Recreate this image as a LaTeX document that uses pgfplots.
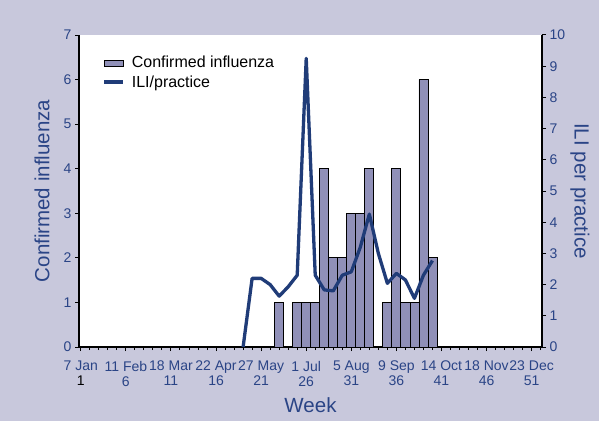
\documentclass[border=0pt]{standalone}
\usepackage{fontspec}
\setmainfont{Liberation Sans}
\usepackage{pgfplots}
\pgfplotsset{compat=1.18}
\definecolor{bg}{HTML}{C8C8DC}
\definecolor{barc}{HTML}{9090B8}
\definecolor{linec}{HTML}{203C78}
\definecolor{txt}{HTML}{2A4486}
\begin{document}
\begin{tikzpicture}
\fill[bg] (0pt,0pt) rectangle (599pt,421pt);
\begin{axis}[
  at={(79pt,74pt)}, anchor=south west, scale only axis,
  width=463pt, height=312pt,
  xmin=0.8, xmax=52.15, ymin=0, ymax=7,
  axis background/.style={fill=white},
  axis x line*=bottom, axis y line*=left,
  x axis line style={-, line width=1.8pt, black},
  y axis line style={-, line width=1.4pt, black},
  tick align=outside,
  major tick length=4pt, minor tick length=3pt,
  tick style={black, line width=1pt},
  xtick={1,6,11,16,21,26,31,36,41,46,51},
  minor xtick={2,...,52},
  xticklabels={{7 Jan\\\textcolor{black}{1}},{11 Feb\\6},{18 Mar\\11},{22 Apr\\16},{27 May\\21},{1 Jul\\26},{5 Aug\\31},{9 Sep\\36},{14 Oct\\41},{18 Nov\\46},{23 Dec\\51}},
  xticklabel style={align=center, font=\fontsize{14}{15}\selectfont, text=txt, inner sep=1pt, yshift=-9pt},
  ytick={0,...,7},
  yticklabel style={font=\fontsize{14}{16}\selectfont, text=txt},
  /pgf/number format/assume math mode=true,
  xlabel={Week},
  xlabel style={at={(axis description cs:0.5,-0.186)}, anchor=center, font=\fontsize{20.5}{24}\selectfont, text=txt},
  ylabel={Confirmed influenza},
  ylabel style={at={(axis description cs:-0.08,0.5)}, anchor=center, font=\fontsize{20.5}{24}\selectfont, text=txt},
]
\addplot[ybar, bar width=1, bar shift=0pt, fill=barc, draw=black, line width=0.8pt] coordinates {
(23,1) (25,1) (26,1) (27,1) (28,4) (29,2) (30,2) (31,3) (32,3) (33,4)
(35,1) (36,4) (37,1) (38,1) (39,6) (40,2)
};
\end{axis}
\begin{axis}[
  at={(79pt,74pt)}, anchor=south west, scale only axis,
  width=463pt, height=312pt,
  xmin=0.8, xmax=52.15, ymin=0, ymax=10,
  axis x line=none, axis y line*=right,
  y axis line style={-, line width=1.4pt, black},
  tick align=outside,
  major tick length=4pt,
  tick style={black, line width=1pt},
  ytick={0,...,10},
  yticklabel style={font=\fontsize{14}{16}\selectfont, text=txt},
  /pgf/number format/assume math mode=true,
  ylabel={ILI per practice},
  ylabel style={at={(axis description cs:1.082,0.5)}, anchor=center, rotate=180, font=\fontsize{20.5}{24}\selectfont, text=txt},
  legend style={draw=none, fill=none, at={(0.044,0.945)}, anchor=north west, font=\fontsize{16}{18}\selectfont, row sep=2pt},
  legend cell align=left,
]
\addlegendimage{legend image code/.code={\draw[fill=barc, draw=black, line width=0.8pt] (0pt,-3pt) rectangle (19pt,3pt);}}
\addlegendentry{\hspace{5pt}Confirmed influenza}
\addplot[linec, line width=3.3pt, line join=round, legend image code/.code={\draw[linec, line width=3.3pt] (0pt,0pt) -- (19pt,0pt);}] coordinates {
(19,0) (20,2.2) (21,2.2) (22,2.0) (23,1.63) (24,1.93) (25,2.3) (26,9.25) (27,2.3) (28,1.83)
(29,1.8) (30,2.3) (31,2.41) (32,3.2) (33,4.26) (34,3.0) (35,2.04) (36,2.36) (37,2.15) (38,1.56)
(39,2.3) (40,2.77)
};
\addlegendentry{\hspace{5pt}ILI/practice}
\end{axis}
\end{tikzpicture}
\end{document}
